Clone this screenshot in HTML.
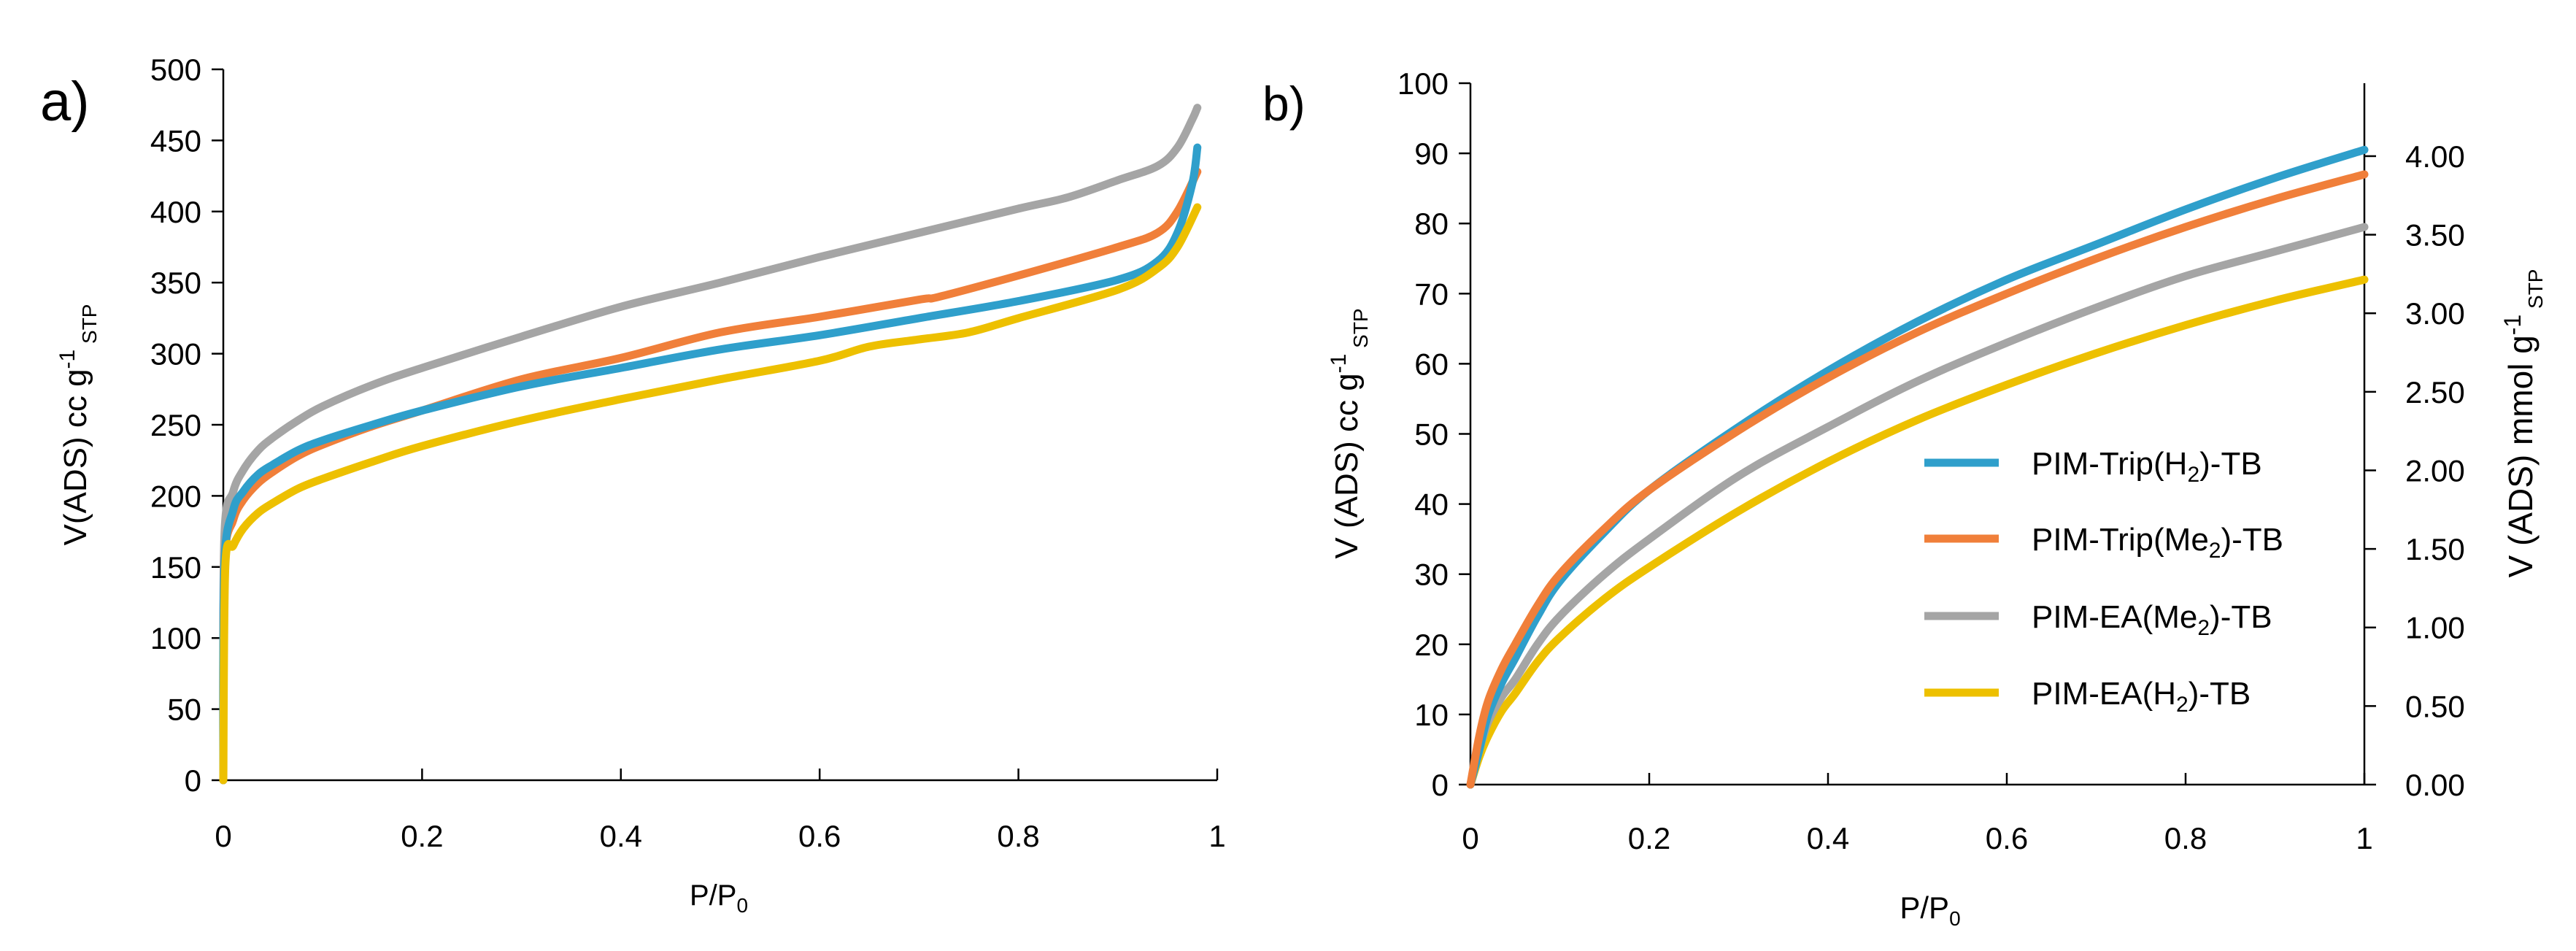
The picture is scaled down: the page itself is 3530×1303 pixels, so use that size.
<!DOCTYPE html>
<html><head><meta charset="utf-8"><style>
html,body{margin:0;padding:0;background:#fff}
svg{display:block}
text{font-family:"Liberation Sans",sans-serif;fill:#000}
</style></head><body>
<svg id="s" width="3530" height="1303" viewBox="0 0 3530 1303">
<g id="ga"></g>
<g id="gb"></g>
</svg>
<script>
const NS="http://www.w3.org/2000/svg";
const seriesNames=["PIM-Trip(H2)-TB","PIM-Trip(Me2)-TB","PIM-EA(Me2)-TB","PIM-EA(H2)-TB"];
const colors=["#2F9FCB","#F07F3A","#A5A5A5","#EDC000"];
// chart a data
const aX_blue=[0,0.001,0.01,0.02,0.035,0.05,0.075,0.1,0.15,0.2,0.3,0.4,0.5,0.6,0.7,0.8,0.9,0.94,0.96,0.975,0.98];
const aY_blue=[0,150,190,203,215,222,232,239,250,260,277,290,303,313,325,337,352,365,385,420,445];
const aX_orange=[0,0.001,0.01,0.02,0.035,0.05,0.075,0.1,0.15,0.2,0.3,0.4,0.5,0.6,0.7,0.72,0.8,0.9,0.94,0.96,0.98];
const aY_orange=[0,150,183,197,209,217,228,236,249,260,282,297,315,326,338,340,355,375,385,400,428];
const aX_gray=[0,0.001,0.01,0.02,0.035,0.05,0.075,0.1,0.15,0.2,0.3,0.4,0.5,0.6,0.7,0.8,0.85,0.9,0.94,0.96,0.975,0.98];
const aY_gray=[0,170,203,218,232,241,253,263,278,290,312,333,350,368,385,402,410,422,432,445,465,473];
const aX_yellow=[0,0.002,0.01,0.02,0.035,0.05,0.075,0.1,0.15,0.2,0.3,0.4,0.5,0.6,0.65,0.7,0.75,0.8,0.9,0.94,0.96,0.98];
const aY_yellow=[0,150,165,177,188,195,205,212,224,235,253,268,282,295,305,310,315,325,345,360,375,403];
// chart b data
const bX=[0,0.01,0.02,0.035,0.05,0.075,0.1,0.15,0.2,0.3,0.4,0.5,0.6,0.7,0.8,0.9,1];
const bY_blue=[0,5,10,14.5,18,24,29,36,42,51,59,66,72,77,82,86.5,90.5];
const bY_orange=[0,7,12,16.5,20,25.5,30,36.5,42,50.5,58,64.5,70,75,79.5,83.5,87];
const bY_gray=[0,5,9,12.5,15,20,24,30,35,44,51,57.5,63,68,72.5,76,79.5];
const bY_yellow=[0,4,7,10.5,13,17.5,21,26.5,31,39,46,52,57,61.5,65.5,69,72];
const xTicks=["0","0.2","0.4","0.6","0.8","1"];
const aYTicks=[0,50,100,150,200,250,300,350,400,450,500];
const bYTicks=[0,10,20,30,40,50,60,70,80,90,100];
const bRTicks=["0.00","0.50","1.00","1.50","2.00","2.50","3.00","3.50","4.00"];

function el(p,t,a,txt){const e=document.createElementNS(NS,t);for(const k in a)e.setAttribute(k,a[k]);if(txt!==undefined)e.textContent=txt;p.appendChild(e);return e;}
function smooth(pts){
  let d='M'+pts[0][0].toFixed(1)+','+pts[0][1].toFixed(1);
  for(let i=0;i<pts.length-1;i++){
    const p0=pts[Math.max(0,i-1)],p1=pts[i],p2=pts[i+1],p3=pts[Math.min(pts.length-1,i+2)];
    const c1=[p1[0]+(p2[0]-p0[0])/6,p1[1]+(p2[1]-p0[1])/6];
    const c2=[p2[0]-(p3[0]-p1[0])/6,p2[1]-(p3[1]-p1[1])/6];
    d+=' C'+c1.map(v=>v.toFixed(1)).join(',')+' '+c2.map(v=>v.toFixed(1)).join(',')+' '+p2[0].toFixed(1)+','+p2[1].toFixed(1);
  }
  return d;
}

// chart a
const ga=document.getElementById('ga');
const axL=306,axR=1668,ayB=1069,ayT=95;
const ax=v=>axL+v*(axR-axL), ay=v=>ayB-v/500*(ayB-ayT);
let e;
e=el(ga,'line',{x1:axL,y1:ayT,x2:axL,y2:ayB,stroke:'#000','stroke-width':2.5});

e=el(ga,'line',{x1:axL,y1:ayB,x2:axR,y2:ayB,stroke:'#000','stroke-width':2.5});

aYTicks.forEach(v=>{
  el(ga,'line',{x1:axL-16,y1:ay(v),x2:axL,y2:ay(v),stroke:'#000','stroke-width':2.5});
  e=el(ga,'text',{x:axL-30,y:ay(v)+15,'text-anchor':'end','font-size':42},String(v));
  
});
xTicks.forEach(t=>{
  const x=ax(parseFloat(t));
  el(ga,'line',{x1:x,y1:ayB-16,x2:x,y2:ayB,stroke:'#000','stroke-width':2.5});
  e=el(ga,'text',{x:x,y:1160,'text-anchor':'middle','font-size':42},t);
  
});
const aSeries=[[aX_blue,aY_blue],[aX_orange,aY_orange],[aX_gray,aY_gray],[aX_yellow,aY_yellow]];
[2,1,0,3].forEach(i=>{
  const [xs,ys]=aSeries[i];
  e=el(ga,'path',{d:smooth(xs.map((x,j)=>[ax(x),ay(ys[j])])),fill:'none',stroke:colors[i],'stroke-width':11,'stroke-linejoin':'round','stroke-linecap':'round'});
  
});
e=el(ga,'text',{x:55,y:165,'font-size':76},'a)');

e=el(ga,'text',{x:985,y:1240,'text-anchor':'middle','font-size':40},'');
e.innerHTML='P/P<tspan font-size="28" dy="10">0</tspan>';

e=el(ga,'text',{transform:'translate(118,582) rotate(-90)','text-anchor':'middle','font-size':44},'');
e.innerHTML='V(ADS) cc g<tspan font-size="30" dy="-16">-1</tspan><tspan font-size="28" dy="30"> STP</tspan>';


// chart b
const gb=document.getElementById('gb');
const bL=2015,bR=3240,bB=1075,bT=114;
const bx=v=>bL+v*(bR-bL), by=v=>bB-v/100*(bB-bT);
e=el(gb,'line',{x1:bL,y1:bT,x2:bL,y2:bB,stroke:'#000','stroke-width':2.5});

e=el(gb,'line',{x1:bL,y1:bB,x2:bR,y2:bB,stroke:'#000','stroke-width':2.5});

e=el(gb,'line',{x1:bR,y1:bT,x2:bR,y2:bB,stroke:'#000','stroke-width':2.5});

bYTicks.forEach(v=>{
  el(gb,'line',{x1:bL-16,y1:by(v),x2:bL,y2:by(v),stroke:'#000','stroke-width':2.5});
  e=el(gb,'text',{x:bL-30,y:by(v)+15,'text-anchor':'end','font-size':42},String(v));
  
});
const mmolPerCC=4.00/89.6;
bRTicks.forEach(t=>{
  const y=by(parseFloat(t)/mmolPerCC);
  el(gb,'line',{x1:bR,y1:y,x2:bR+16,y2:y,stroke:'#000','stroke-width':2.5});
  e=el(gb,'text',{x:bR+56,y:y+15,'font-size':42},t);
  
});
xTicks.forEach(t=>{
  const x=bx(parseFloat(t));
  el(gb,'line',{x1:x,y1:bB-16,x2:x,y2:bB,stroke:'#000','stroke-width':2.5});
  e=el(gb,'text',{x:x,y:1163,'text-anchor':'middle','font-size':42},t);
  
});
const bSeries=[bY_blue,bY_orange,bY_gray,bY_yellow];
[3,2,0,1].forEach(i=>{
  e=el(gb,'path',{d:smooth(bX.map((x,j)=>[bx(x),by(bSeries[i][j])])),fill:'none',stroke:colors[i],'stroke-width':11,'stroke-linejoin':'round','stroke-linecap':'round'});
  
});
e=el(gb,'text',{x:1730,y:165,'font-size':66},'b)');

e=el(gb,'text',{x:2645,y:1258,'text-anchor':'middle','font-size':42},'');
e.innerHTML='P/P<tspan font-size="28" dy="10">0</tspan>';

e=el(gb,'text',{transform:'translate(1860,594) rotate(-90)','text-anchor':'middle','font-size':44},'');
e.innerHTML='V (ADS) cc g<tspan font-size="30" dy="-16">-1</tspan><tspan font-size="28" dy="30"> STP</tspan>';

e=el(gb,'text',{transform:'translate(3470,580) rotate(-90)','text-anchor':'middle','font-size':46},'');
e.innerHTML='V (ADS) mmol g<tspan font-size="32" dy="-16">-1</tspan><tspan font-size="28" dy="30"> STP</tspan>';

// legend
const legY=[634,738,844,949];
const legLabels=['PIM-Trip(H<tspan font-size="30" dy="10">2</tspan><tspan dy="-10">)-TB</tspan>','PIM-Trip(Me<tspan font-size="30" dy="10">2</tspan><tspan dy="-10">)-TB</tspan>','PIM-EA(Me<tspan font-size="30" dy="10">2</tspan><tspan dy="-10">)-TB</tspan>','PIM-EA(H<tspan font-size="30" dy="10">2</tspan><tspan dy="-10">)-TB</tspan>'];
legY.forEach((y,i)=>{
  const g=el(gb,'g',{});
  
  el(g,'line',{x1:2637,y1:y,x2:2739,y2:y,stroke:colors[i],'stroke-width':11});
  const t=el(g,'text',{x:2784,y:y+16,'font-size':44},'');
  t.innerHTML=legLabels[i];
});
</script>
</body></html>
